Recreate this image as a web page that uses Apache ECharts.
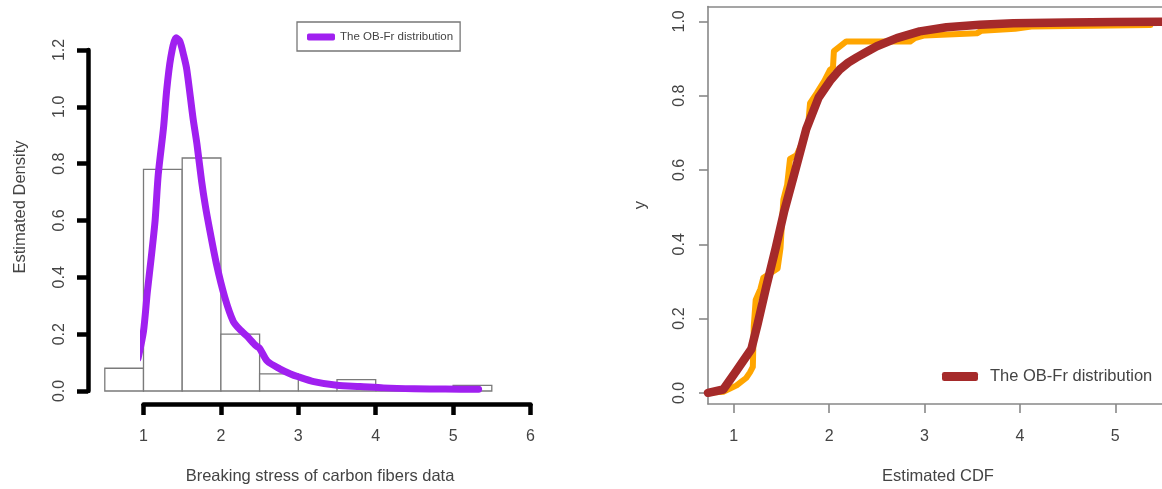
<!DOCTYPE html>
<html>
<head>
<meta charset="utf-8">
<script src="https://cdn.jsdelivr.net/npm/echarts@6/dist/echarts.min.js"></script>
<style>
  html, body { margin: 0; padding: 0; background: #fff; }
  #chart { width: 1162px; height: 489px; }
</style>
</head>
<body>
<div id="chart"></div>
<script>
// Histogram of breaking stress (density scale), bins of width 0.5
const binStart = [0.5, 1.0, 1.5, 2.0, 2.5, 3.0, 3.5, 4.0, 4.5, 5.0];
const binEnd   = [1.0, 1.5, 2.0, 2.5, 3.0, 3.5, 4.0, 4.5, 5.0, 5.5];
const histDensity = [0.08, 0.78, 0.82, 0.20, 0.06, 0.00, 0.04, 0.00, 0.00, 0.02];

// Fitted OB-Fr density curve
const pdfX = [0.93, 1.0, 1.05, 1.10, 1.15, 1.19, 1.26, 1.30, 1.35, 1.42, 1.47, 1.52, 1.56, 1.64, 1.69, 1.75, 1.80, 1.85, 1.94, 2.05, 2.16, 2.25, 2.33, 2.45, 2.5, 2.6, 2.76, 2.9, 3.0, 3.2, 3.5, 3.8, 4.1, 4.5, 4.9, 5.33];
const pdfY = [0.115, 0.21, 0.35, 0.47, 0.60, 0.76, 0.93, 1.06, 1.17, 1.243, 1.23, 1.18, 1.13, 0.96, 0.87, 0.74, 0.65, 0.575, 0.45, 0.33, 0.245, 0.215, 0.195, 0.16, 0.15, 0.105, 0.078, 0.06, 0.05, 0.033, 0.02, 0.016, 0.011, 0.008, 0.007, 0.006];

// Empirical CDF of the sample
const ecdfX = [0.73, 0.89, 0.95, 1.03, 1.08, 1.13, 1.17, 1.20, 1.21, 1.23, 1.28, 1.31, 1.46, 1.49, 1.52, 1.56, 1.59, 1.66, 1.73, 1.78, 1.80, 1.87, 1.95, 2.01, 2.04, 2.05, 2.10, 2.18, 2.85, 2.90, 3.00, 3.55, 3.60, 3.95, 4.12, 5.37, 5.38, 5.49];
const ecdfY = [0.0, 0.003, 0.01, 0.02, 0.03, 0.04, 0.055, 0.07, 0.18, 0.25, 0.28, 0.31, 0.335, 0.39, 0.52, 0.56, 0.63, 0.64, 0.68, 0.72, 0.78, 0.807, 0.84, 0.87, 0.875, 0.92, 0.93, 0.946, 0.946, 0.955, 0.962, 0.968, 0.975, 0.98, 0.986, 0.99, 1.0, 1.0];

// Fitted OB-Fr CDF
const cdfX = [0.73, 0.89, 1.03, 1.185, 1.25, 1.34, 1.44, 1.53, 1.63, 1.76, 1.89, 2.01, 2.11, 2.2, 2.29, 2.4, 2.5, 2.71, 2.95, 3.23, 3.58, 3.93, 4.5, 5.0, 5.49];
const cdfY = [0.0, 0.009, 0.06, 0.118, 0.185, 0.285, 0.39, 0.49, 0.585, 0.71, 0.795, 0.84, 0.87, 0.889, 0.903, 0.919, 0.933, 0.955, 0.973, 0.984, 0.991, 0.995, 0.997, 0.998, 0.999];

// Tick values
const densityTicksX = [1, 2, 3, 4, 5, 6];
const cdfTicksX = [1, 2, 3, 4, 5];
const cdfTicksY = [0, 0.2, 0.4, 0.6, 0.8, 1.0];

const seriesName = 'The OB-Fr distribution';
const FONT = '"Liberation Sans", Arial, Helvetica, sans-serif';
const TXT = '#444444';

const zip = (xs, ys) => xs.map((x, i) => [x, ys[i]]);
const histData = binStart.map((s, i) => [s, binEnd[i], histDensity[i]]);

const chart = echarts.init(document.getElementById('chart'), null, { renderer: 'canvas' });

chart.setOption({
  backgroundColor: '#ffffff',
  animation: false,
  textStyle: { fontFamily: FONT },
  grid: [
    // density panel: axes span 1..6 and 0..1.2
    { left: 143.5, right: 631.5, top: 50, bottom: 98 },
    // CDF panel (framed region)
    { left: 708, right: 0, top: 6.5, bottom: 85 }
  ],
  xAxis: [
    {
      gridIndex: 0, type: 'value', min: 1, max: 6, interval: 1, offset: 13,
      axisLine: { onZero: false, lineStyle: { color: '#000', width: 4.5, cap: 'round' } },
      axisTick: { inside: false, length: 11, customValues: densityTicksX, lineStyle: { color: '#000', width: 4.5 } },
      axisLabel: { margin: 25, fontSize: 16, color: TXT, fontFamily: FONT, customValues: densityTicksX },
      splitLine: { show: false }
    },
    {
      gridIndex: 1, type: 'value', min: 0.73, max: 5.49,
      axisLine: { onZero: false, lineStyle: { color: '#888', width: 1.6 } },
      axisTick: { inside: false, length: 9, customValues: cdfTicksX, lineStyle: { color: '#888', width: 1.6 } },
      axisLabel: { margin: 25, fontSize: 16, color: TXT, fontFamily: FONT, customValues: cdfTicksX },
      splitLine: { show: false }
    },
    {
      gridIndex: 1, type: 'value', min: 0.73, max: 5.49, position: 'top',
      axisLine: { onZero: false, lineStyle: { color: '#888', width: 1.6 } },
      axisTick: { show: false }, axisLabel: { show: false }, splitLine: { show: false }
    }
  ],
  yAxis: [
    {
      gridIndex: 0, type: 'value', min: 0, max: 1.2, interval: 0.2, offset: 55.5,
      axisLine: { show: true, onZero: false, lineStyle: { color: '#000', width: 4.5, cap: 'round' } },
      axisTick: { show: true, inside: false, length: 11, lineStyle: { color: '#000', width: 4.5 } },
      axisLabel: { margin: 20, rotate: 90, fontSize: 16, color: TXT, fontFamily: FONT,
        formatter: v => v.toFixed(1) },
      splitLine: { show: false }
    },
    {
      gridIndex: 1, type: 'value', min: -0.03, max: 1.04,
      axisLine: { show: true, onZero: false, lineStyle: { color: '#888', width: 1.6 } },
      axisTick: { show: true, inside: false, length: 9, customValues: cdfTicksY, lineStyle: { color: '#888', width: 1.6 } },
      axisLabel: { margin: 20, rotate: 90, fontSize: 16, color: TXT, fontFamily: FONT,
        customValues: cdfTicksY, formatter: v => v.toFixed(1) },
      splitLine: { show: false }
    }
  ],
  legend: [
    {
      left: 297, top: 22, padding: [9, 7, 8, 10],
      borderColor: '#777', borderWidth: 1.3, borderRadius: 0,
      itemWidth: 28, itemHeight: 7, selectedMode: false,
      textStyle: { fontSize: 11.5, color: TXT, fontFamily: FONT },
      data: [{ name: seriesName, icon: 'roundRect', itemStyle: { color: '#A020F0', borderWidth: 0 } }]
    },
    {
      left: 942, top: 368, padding: 0,
      itemWidth: 36, itemHeight: 9, selectedMode: false,
      textStyle: { fontSize: 16.5, color: TXT, fontFamily: FONT, padding: [0, 0, 0, 7] },
      data: [{ name: seriesName, icon: 'roundRect', itemStyle: { color: '#A52A2A', borderWidth: 0 } }]
    }
  ],
  graphic: [
    { type: 'text', x: 20, y: 207, rotation: Math.PI / 2,
      style: { text: 'Estimated Density', fontSize: 16.5, fontFamily: FONT, fill: TXT, textAlign: 'center', textVerticalAlign: 'middle' } },
    { type: 'text', x: 320, y: 476,
      style: { text: 'Breaking stress of carbon fibers data', fontSize: 16.5, fontFamily: FONT, fill: TXT, textAlign: 'center', textVerticalAlign: 'middle' } },
    { type: 'text', x: 640, y: 205, rotation: Math.PI / 2,
      style: { text: 'y', fontSize: 16.5, fontFamily: FONT, fill: TXT, textAlign: 'center', textVerticalAlign: 'middle' } },
    { type: 'text', x: 938, y: 476,
      style: { text: 'Estimated CDF', fontSize: 16.5, fontFamily: FONT, fill: TXT, textAlign: 'center', textVerticalAlign: 'middle' } }
  ],
  series: [
    {
      type: 'custom', name: 'histogram', xAxisIndex: 0, yAxisIndex: 0,
      data: histData, encode: { x: [0, 1], y: 2 }, clip: false,
      renderItem: (params, api) => {
        const p0 = api.coord([api.value(0), api.value(2)]);
        const p1 = api.coord([api.value(1), 0]);
        return {
          type: 'rect',
          shape: { x: p0[0], y: p0[1], width: p1[0] - p0[0], height: p1[1] - p0[1] },
          style: { fill: '#ffffff', stroke: '#7a7a7a', lineWidth: 1.3 }
        };
      },
      z: 1
    },
    {
      type: 'line', name: seriesName, xAxisIndex: 0, yAxisIndex: 0,
      data: zip(pdfX, pdfY), showSymbol: false, symbol: 'none', clip: false,
      smooth: 0.25,
      lineStyle: { color: '#A020F0', width: 7, cap: 'round', join: 'round' },
      itemStyle: { color: '#A020F0' }, z: 3
    },
    {
      type: 'line', name: 'ecdf', xAxisIndex: 1, yAxisIndex: 1,
      data: zip(ecdfX, ecdfY), showSymbol: false, symbol: 'none', clip: false,
      lineStyle: { color: '#FFA500', width: 6, cap: 'round', join: 'round' },
      itemStyle: { color: '#FFA500' }, z: 2
    },
    {
      type: 'line', name: seriesName, xAxisIndex: 1, yAxisIndex: 1,
      data: zip(cdfX, cdfY), showSymbol: false, symbol: 'none', clip: false,
      lineStyle: { color: '#A52A2A', width: 8.5, cap: 'round', join: 'round' },
      itemStyle: { color: '#A52A2A' }, z: 3
    }
  ]
});
</script>
</body>
</html>
